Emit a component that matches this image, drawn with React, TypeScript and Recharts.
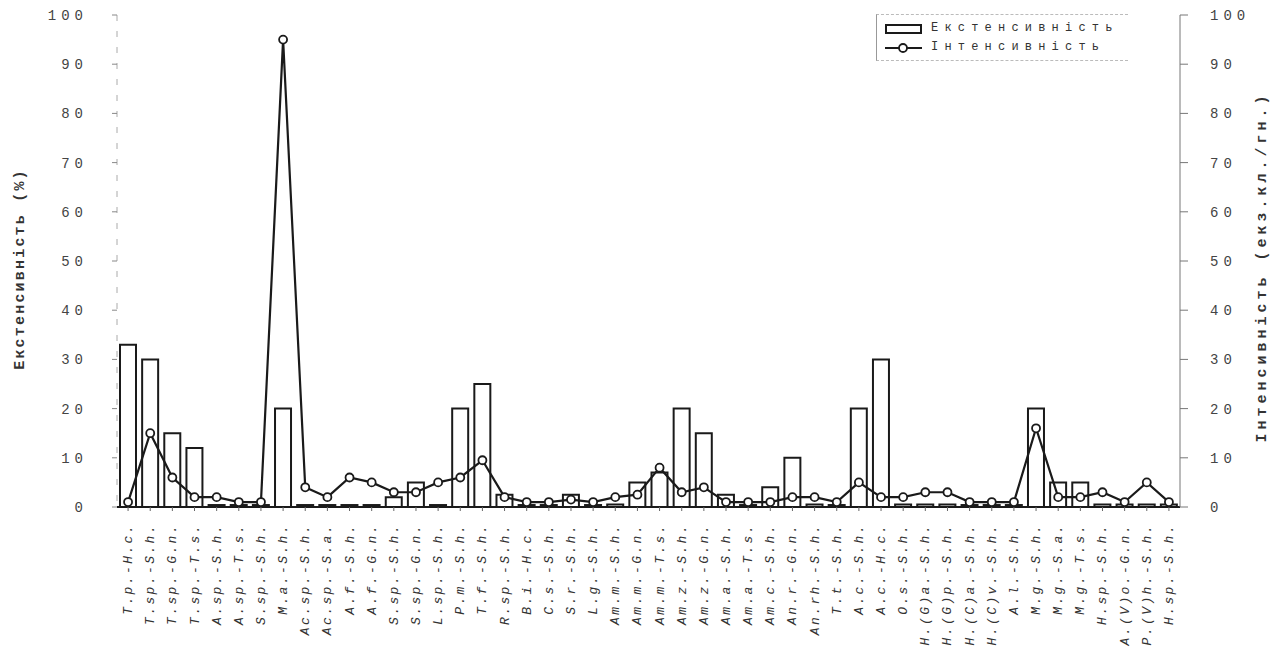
import React from 'react';
import { ComposedChart, Bar, Line, XAxis, YAxis } from 'recharts';

// host–parasite pairs (x axis)
const categories = [
    'T.p.-H.c.', 'T.sp.-S.h.', 'T.sp.-G.n.', 'T.sp.-T.s.', 'A.sp.-S.h.', 'A.sp.-T.s.', 'S.sp.-S.h.', 'M.a.-S.h.',
    'Ac.sp.-S.h.', 'Ac.sp.-S.a.', 'A.f.-S.h.', 'A.f.-G.n.', 'S.sp.-S.h.', 'S.sp.-G.n.', 'L.sp.-S.h.', 'P.m.-S.h.',
    'T.f.-S.h.', 'R.sp.-S.h.', 'B.i.-H.c.', 'C.s.-S.h.', 'S.r.-S.h.', 'L.g.-S.h.', 'Am.m.-S.h.', 'Am.m.-G.n.',
    'Am.m.-T.s.', 'Am.z.-S.h.', 'Am.z.-G.n.', 'Am.a.-S.h.', 'Am.a.-T.s.', 'Am.c.-S.h.', 'An.r.-G.n.', 'An.rh.-S.h.',
    'T.t.-S.h.', 'A.c.-S.h.', 'A.c.-H.c.', 'O.s.-S.h.', 'H.(G)a.-S.h.', 'H.(G)p.-S.h.', 'H.(C)a.-S.h.', 'H.(C)v.-S.h.',
    'A.l.-S.h.', 'M.g.-S.h.', 'M.g.-S.a.', 'M.g.-T.s.', 'H.sp.-S.h.', 'A.(V)o.-G.n.', 'P.(V)h.-S.h.', 'H.sp.-S.h.',
];

// Екстенсивність, %
const extensivity = [
    33, 30, 15, 12, 0.4, 0.4, 0.4, 20,
    0.4, 0.4, 0.4, 0.4, 2, 5, 0.4, 20,
    25, 2.5, 0.4, 0.4, 2.5, 0.4, 0.5, 5,
    7, 20, 15, 2.5, 0.4, 4, 10, 0.5,
    0.4, 20, 30, 0.5, 0.5, 0.5, 0.4, 0.4,
    0.4, 20, 5, 5, 0.5, 0.5, 0.5, 0.5,
];

// Інтенсивність, екз.кл./гн.
const intensity = [
    1, 15, 6, 2, 2, 1, 1, 95,
    4, 2, 6, 5, 3, 3, 5, 6,
    9.5, 2, 1, 1, 1.5, 1, 2, 2.5,
    8, 3, 4, 1, 1, 1, 2, 2,
    1, 5, 2, 2, 3, 3, 1, 1,
    1, 16, 2, 2, 3, 1, 5, 1,
];

const yTicks = [0, 10, 20, 30, 40, 50, 60, 70, 80, 90, 100];

const data = categories.map((name, i) => ({ name, idx: i, ext: extensivity[i], int: intensity[i] }));

const mono = '"Liberation Mono", "DejaVu Sans Mono", monospace';
const ink = '#1a1a1a';

const XTick = ({ x, y, payload }: any) => (
    <text
        transform={`translate(${x + 4},${y + 10}) rotate(-90)`}
        textAnchor="end"
        fontFamily={mono}
        fontStyle="italic"
        fontSize={13}
        letterSpacing={2.4}
        fill="#333"
    >
        {categories[payload.value]}
    </text>
);

const LeftTick = ({ x, y, payload }: any) => (
    <text x={x - 22} y={y + 5} textAnchor="end" fontFamily={mono} fontSize={14} letterSpacing={5} fill="#444">
        {payload.value}
    </text>
);

const RightTick = ({ x, y, payload }: any) => (
    <text x={x + 20} y={y + 5} textAnchor="start" fontFamily={mono} fontSize={14} letterSpacing={5} fill="#444">
        {payload.value}
    </text>
);

const LeftLabel = ({ viewBox }: any) => (
    <text
        transform={`translate(${viewBox.x + 24},${viewBox.y + viewBox.height / 2 + 8}) rotate(-90)`}
        textAnchor="middle"
        fontFamily={mono}
        fontWeight="bold"
        fontSize={15}
        letterSpacing={2.2}
        fill="#333"
    >
        Екстенсивність (%)
    </text>
);

const RightLabel = ({ viewBox }: any) => (
    <text
        transform={`translate(${viewBox.x + viewBox.width - 8},${viewBox.y + viewBox.height / 2 + 6}) rotate(-90)`}
        textAnchor="middle"
        fontFamily={mono}
        fontWeight="bold"
        fontSize={15}
        letterSpacing={4}
        fill="#333"
    >
        Інтенсивність (екз.кл./гн.)
    </text>
);

const LegendBox = () => (
    <div
        style={{
            position: 'absolute',
            left: 876,
            top: 14,
            width: 252,
            borderTop: '1px dashed #bbb',
            borderBottom: '1px dashed #bbb',
            borderLeft: '1px solid #999',
            padding: '4px 0 3px 8px',
            fontFamily: mono,
            fontSize: 12,
            letterSpacing: 6.2,
            color: '#333',
            lineHeight: '19px',
            boxSizing: 'border-box',
        }}
    >
        <div style={{ display: 'flex', alignItems: 'center' }}>
            <svg width={38} height={12} style={{ marginRight: 8 }}>
                <rect x={1} y={2} width={35} height={8} fill="#fff" stroke={ink} strokeWidth={2} />
            </svg>
            Екстенсивність
        </div>
        <div style={{ display: 'flex', alignItems: 'center' }}>
            <svg width={38} height={12} style={{ marginRight: 8 }}>
                <line x1={0} y1={6} x2={37} y2={6} stroke={ink} strokeWidth={2} />
                <circle cx={18} cy={6} r={4} fill="#fff" stroke={ink} strokeWidth={1.8} />
            </svg>
            Інтенсивність
        </div>
    </div>
);

export default function App() {
    return (
        <div style={{ position: 'absolute', left: 0, top: 0, width: 1274, height: 661, background: '#fff' }}>
            <ComposedChart width={1274} height={661} data={data} margin={{ top: 15, right: 0, bottom: 0, left: 0 }}>
                <XAxis
                    dataKey="idx"
                    type="category"
                    interval={0}
                    height={154}
                    tick={<XTick />}
                    axisLine={{ stroke: ink, strokeWidth: 2 }}
                    tickLine={{ stroke: '#666' }}
                    tickSize={4}
                />
                <YAxis
                    yAxisId="left"
                    domain={[0, 100]}
                    ticks={yTicks}
                    width={117}
                    tick={<LeftTick />}
                    axisLine={{ stroke: '#aaa', strokeDasharray: '6 10' }}
                    tickLine={{ stroke: '#888' }}
                    tickSize={5}
                    label={<LeftLabel />}
                />
                <YAxis
                    yAxisId="right"
                    orientation="right"
                    domain={[0, 100]}
                    ticks={yTicks}
                    width={94}
                    tick={<RightTick />}
                    axisLine={{ stroke: '#777' }}
                    tickLine={{ stroke: '#777' }}
                    tickSize={8}
                    label={<RightLabel />}
                />
                <Bar
                    yAxisId="left"
                    dataKey="ext"
                    name="Екстенсивність"
                    barSize={16}
                    fill="#fff"
                    stroke={ink}
                    strokeWidth={2}
                    isAnimationActive={false}
                />
                <Line
                    yAxisId="right"
                    dataKey="int"
                    name="Інтенсивність"
                    type="linear"
                    stroke={ink}
                    strokeWidth={2.2}
                    dot={{ r: 4, fill: '#fff', stroke: ink, strokeWidth: 1.8 }}
                    isAnimationActive={false}
                />
            </ComposedChart>
            <LegendBox />
        </div>
    );
}
